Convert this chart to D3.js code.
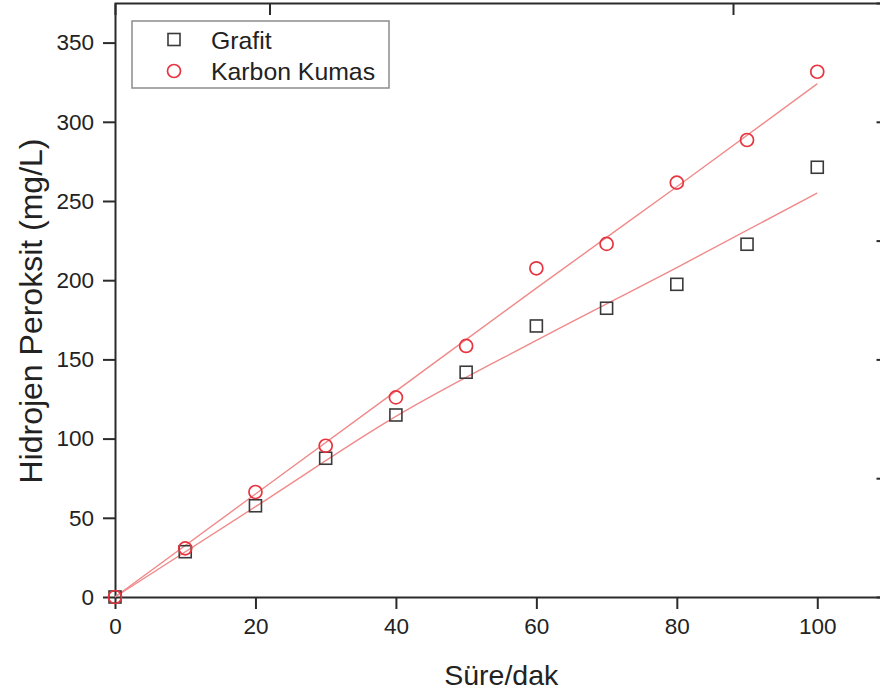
<!DOCTYPE html>
<html>
<head>
<meta charset="utf-8">
<script src="https://cdn.jsdelivr.net/npm/d3@7"></script>
<style>
  html, body { margin: 0; padding: 0; background: #fff; }
  svg { display: block; }
  text { font-family: "Liberation Sans", Arial, sans-serif; fill: #222; }
</style>
</head>
<body>
<svg id="chart" width="880" height="690"></svg>
<script>
// Time (min) and measured H2O2 concentration (mg/L) for each electrode
const times = [0, 10, 20, 30, 40, 50, 60, 70, 80, 90, 100];
const grafit = [0, 28.6, 57.6, 87.6, 114.9, 141.9, 171.1, 182.3, 197.4, 222.7, 271.3];
const karbonKumas = [0, 30.7, 66.3, 95.5, 126.0, 158.5, 207.5, 222.9, 261.6, 288.5, 331.6];

// Fitted trend curves
const fitTimes = [0, 20, 40, 60, 80, 100];
const grafitFit = [0, 57, 114, 162, 208, 255];
const karbonFit = [0, 65, 130, 195, 259, 324];

const xTicks = [0, 20, 40, 60, 80, 100];
const yTicks = [0, 50, 100, 150, 200, 250, 300, 350];
const topTicks = [22, 88];
const rightTicks = [75, 150, 225, 300];

const seriesNames = ["Grafit", "Karbon Kumas"];

const svg = d3.select("#chart");
const plotLeft = 115, plotTop = 3, plotRight = 887.5, plotBottom = 597;

const x = d3.scaleLinear().domain([0, 110]).range([plotLeft, plotRight]);
const y = d3.scaleLinear().domain([0, 375]).range([plotBottom, plotTop]);

const axisColor = "#2b2b2b";
const font = "Liberation Sans, Arial, sans-serif";

// Frame: top and right edges with inward ticks
svg.append("g")
  .attr("transform", `translate(0,${plotTop})`)
  .call(d3.axisTop(x).tickValues(topTicks).tickSize(-12).tickFormat(""))
  .call(g => g.select(".domain").attr("stroke", axisColor).attr("stroke-width", 2))
  .call(g => g.selectAll(".tick line").attr("stroke", axisColor).attr("stroke-width", 2));

svg.append("g")
  .attr("transform", `translate(${plotRight},0)`)
  .call(d3.axisRight(y).tickValues(rightTicks).tickSize(-11).tickFormat(""))
  .call(g => g.select(".domain").attr("stroke", axisColor).attr("stroke-width", 2))
  .call(g => g.selectAll(".tick line").attr("stroke", axisColor).attr("stroke-width", 2));

// Bottom axis
svg.append("g")
  .attr("transform", `translate(0,${plotBottom})`)
  .call(d3.axisBottom(x).tickValues(xTicks).tickSize(12).tickPadding(9).tickSizeOuter(0))
  .call(g => g.select(".domain").attr("stroke", axisColor).attr("stroke-width", 2))
  .call(g => g.selectAll(".tick line").attr("stroke", axisColor).attr("stroke-width", 2))
  .call(g => g.selectAll(".tick text").attr("font-size", 22.5).attr("fill", "#222")
    .attr("font-family", font));

// Left axis
svg.append("g")
  .attr("transform", `translate(${plotLeft},0)`)
  .call(d3.axisLeft(y).tickValues(yTicks).tickSize(12).tickPadding(9).tickSizeOuter(0))
  .call(g => g.select(".domain").attr("stroke", axisColor).attr("stroke-width", 2))
  .call(g => g.selectAll(".tick line").attr("stroke", axisColor).attr("stroke-width", 2))
  .call(g => g.selectAll(".tick text").attr("font-size", 22.5).attr("fill", "#222")
    .attr("font-family", font));

// Axis titles, centred on the full axis lengths
svg.append("text")
  .attr("x", (plotLeft + plotRight) / 2)
  .attr("y", 685)
  .attr("text-anchor", "middle")
  .attr("font-size", 28.5)
  .text("Süre/dak");

svg.append("text")
  .attr("transform", `translate(42,311) rotate(-90)`)
  .attr("text-anchor", "middle")
  .attr("font-size", 32)
  .text("Hidrojen Peroksit (mg/L)");

// Fit curves
const fitLine = d3.line()
  .x((d, i) => x(fitTimes[i]))
  .y(d => y(d))
  .curve(d3.curveMonotoneX);

const fitColor = "#f08a8a";
[grafitFit, karbonFit].forEach(vals => {
  svg.append("path")
    .attr("d", fitLine(vals))
    .attr("fill", "none")
    .attr("stroke", fitColor)
    .attr("stroke-width", 1.4);
});

// Markers
const sq = 12;
const squareColor = "#3a3a3a";
const circleColor = "#e8343e";

svg.append("g").selectAll("rect")
  .data(grafit)
  .join("rect")
  .attr("x", (d, i) => x(times[i]) - sq / 2)
  .attr("y", d => y(d) - sq / 2)
  .attr("width", sq)
  .attr("height", sq)
  .attr("fill", "none")
  .attr("stroke", squareColor)
  .attr("stroke-width", 1.6);

svg.append("g").selectAll("circle")
  .data(karbonKumas)
  .join("circle")
  .attr("cx", (d, i) => x(times[i]))
  .attr("cy", d => y(d))
  .attr("r", 6.5)
  .attr("fill", "none")
  .attr("stroke", circleColor)
  .attr("stroke-width", 1.7);

// Legend
const legend = svg.append("g");
legend.append("rect")
  .attr("x", 132).attr("y", 21)
  .attr("width", 257).attr("height", 67)
  .attr("fill", "#fff")
  .attr("stroke", "#8c8c8c")
  .attr("stroke-width", 1.5);

legend.append("rect")
  .attr("x", 174 - sq / 2).attr("y", 39.5 - sq / 2)
  .attr("width", sq).attr("height", sq)
  .attr("fill", "none").attr("stroke", squareColor).attr("stroke-width", 1.6);

legend.append("circle")
  .attr("cx", 174).attr("cy", 71).attr("r", 6.5)
  .attr("fill", "none").attr("stroke", circleColor).attr("stroke-width", 1.7);

legend.selectAll("text.lbl")
  .data(seriesNames)
  .join("text")
  .attr("class", "lbl")
  .attr("x", 211)
  .attr("y", (d, i) => 48.5 + i * 31.5)
  .attr("font-size", 24.8)
  .text(d => d);
</script>
</body>
</html>
